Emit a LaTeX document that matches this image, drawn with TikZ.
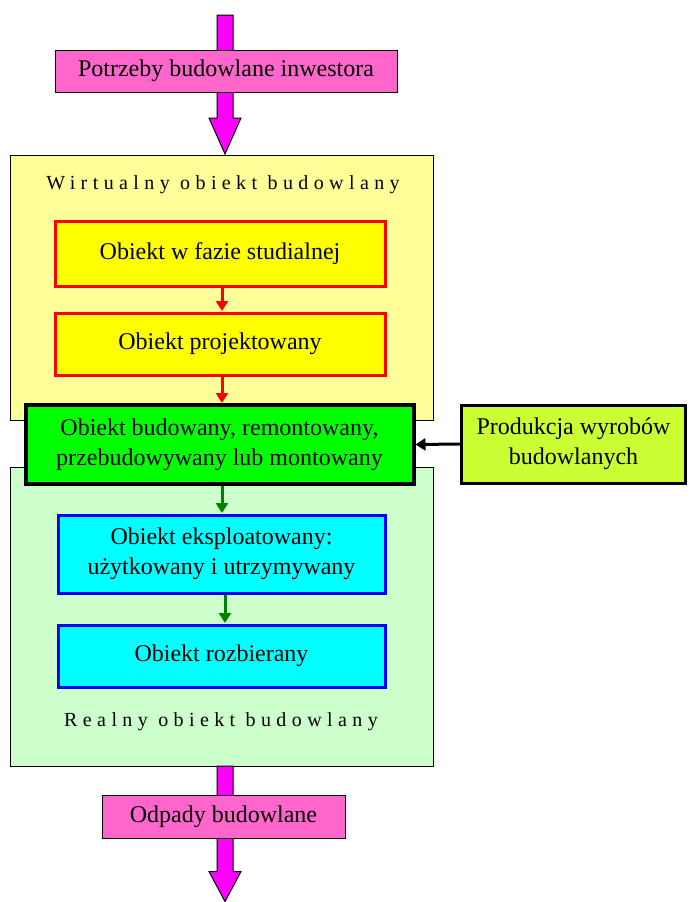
\documentclass[tikz,border=0pt]{standalone}
\usepackage{fontspec}
\setmainfont{Liberation Serif}
\usetikzlibrary{arrows.meta}
\definecolor{mag}{HTML}{FF00FF}
\definecolor{pinkbox}{HTML}{FF66CC}
\definecolor{paleyellow}{HTML}{FFFF99}
\definecolor{palegreen}{HTML}{CCFFCC}
\definecolor{limebox}{HTML}{CCFF33}
\definecolor{puregreen}{HTML}{00FF00}
\definecolor{pureyellow}{HTML}{FFFF00}
\definecolor{purecyan}{HTML}{00FFFF}
\definecolor{pureblue}{HTML}{0000FF}
\definecolor{purered}{HTML}{FF0000}
\definecolor{darkgreenarrow}{HTML}{008000}
\tikzset{
  box/.style={draw=black, line width=1pt, inner sep=0pt, align=center, font=\fontsize{24}{30}\selectfont},
  group/.style={draw=black, line width=1pt, inner sep=0pt},
  redbox/.style={box, draw=purered, fill=pureyellow, line width=3pt},
  cyanbox/.style={box, draw=pureblue, fill=purecyan, line width=3pt},
  greenbox/.style={box, fill=puregreen, line width=4pt},
  limenode/.style={box, fill=limebox, line width=3pt},
  pinknode/.style={box, fill=pinkbox},
  spaced/.style={font=\fontsize{20}{24}\selectfont\addfontfeatures{LetterSpace=27}},
  smallarrow/.style={line width=3pt, -{Triangle[length=10pt,width=12pt]}},
  blockarrow/.style={draw=black, fill=mag, line width=1pt, line join=miter}
}
\begin{document}
\begin{tikzpicture}[x=1pt,y=-1pt]
\useasboundingbox (0,0) rectangle (688,902);
% block arrows
\coordinate (topstart) at (225,15);
\coordinate (topend) at (225,154);
\draw[blockarrow] ([xshift=-8pt]topstart) -- ([xshift=8pt]topstart) -- ([xshift=8pt,yshift=36pt]topend) -- ([xshift=16pt,yshift=36pt]topend) -- (topend) -- ([xshift=-16pt,yshift=36pt]topend) -- ([xshift=-8pt,yshift=36pt]topend) -- cycle;
\node[pinknode, minimum width=342pt, minimum height=42pt] (need) at (226,71) {Potrzeby budowlane inwestora};

\node[group, fill=paleyellow, minimum width=423pt, minimum height=265pt] (virt) at (221.5,287.5) {};
\node[spaced] (virtlbl) at (223,185) {Wirtualny obiekt budowlany};
\node[group, fill=palegreen, minimum width=423pt, minimum height=299pt] (real) at (221.5,616.5) {};
\node[spaced] (reallbl) at (221,722) {Realny obiekt budowlany};

\node[redbox, minimum width=330pt, minimum height=65pt] (stud) at (220,253.5) {Obiekt w fazie studialnej};
\node[redbox, minimum width=330pt, minimum height=62pt] (proj) at (220,344) {Obiekt projektowany};
\node[greenbox, minimum width=388pt, minimum height=79pt] (bud) at (219.5,444.5) {Obiekt budowany, remontowany,\\przebudowywany lub montowany};
\node[limenode, minimum width=224pt, minimum height=78pt] (prod) at (573.5,444) {Produkcja wyrobów\\budowlanych};
\node[cyanbox, minimum width=327pt, minimum height=78pt] (eksp) at (221.5,554) {Obiekt eksploatowany:\\użytkowany i utrzymywany};
\node[cyanbox, minimum width=327pt, minimum height=62pt] (rozb) at (221.5,656) {Obiekt rozbierany};

\draw[smallarrow, purered] (222,288) -- (222,311);
\draw[smallarrow, purered] (222,377) -- (222,403);
\draw[smallarrow, darkgreenarrow] (222,486) -- (222,513);
\draw[smallarrow, darkgreenarrow] (225,595) -- (225,623);
\draw[line width=3pt, -{Triangle[length=10pt,width=12pt]}] (prod.west) -- (bud.east);

\coordinate (botstart) at (225,766);
\coordinate (botend) at (225,901.5);
\draw[blockarrow] ([xshift=-8pt]botstart) -- ([xshift=8pt]botstart) -- ([xshift=8pt,yshift=30pt]botend) -- ([xshift=16pt,yshift=30pt]botend) -- (botend) -- ([xshift=-16pt,yshift=30pt]botend) -- ([xshift=-8pt,yshift=30pt]botend) -- cycle;
\node[pinknode, minimum width=243pt, minimum height=43pt] (waste) at (223.5,816.5) {Odpady budowlane};
\end{tikzpicture}
\end{document}
